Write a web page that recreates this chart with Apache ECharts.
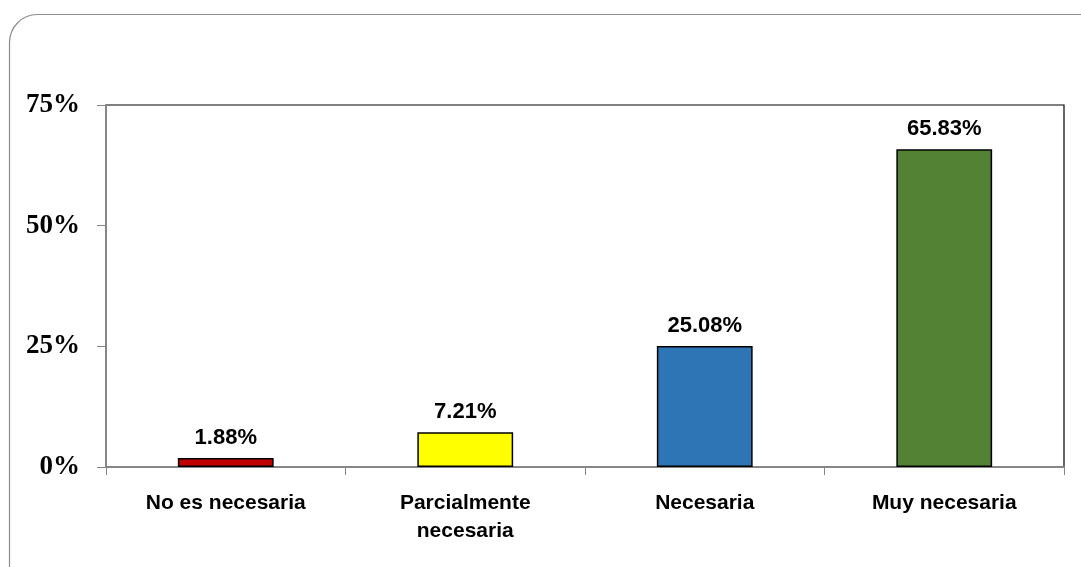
<!DOCTYPE html>
<html><head><meta charset="utf-8">
<script src="https://cdn.jsdelivr.net/npm/echarts@6/dist/echarts.min.js"></script>
<style>html,body{margin:0;padding:0;background:#fff}#c{width:1081px;height:567px}</style>
</head><body><div id="c"></div>
<script>
var categories = ['No es necesaria', 'Parcialmente\nnecesaria', 'Necesaria', 'Muy necesaria'];
var values = [1.88, 7.21, 25.08, 65.83];
var barColors = ['#C00000', '#FFFF00', '#2E75B6', '#548235'];
var yTicks = [0, 25, 50, 75];

var chart = echarts.init(document.getElementById('c'), null, {renderer: 'canvas'});
var sans = '"Liberation Sans", Arial, sans-serif';
chart.setOption({
  animation: false,
  backgroundColor: '#fff',
  graphic: [{
    type: 'rect', left: 7, top: 12, z: -10,
    shape: {width: 1100, height: 600, r: 28},
    style: {fill: 'none', stroke: '#8c8c8c', lineWidth: 1.2}
  }],
  grid: {left: 106, right: 17, top: 105, bottom: 100, show: true, borderColor: '#000', borderWidth: 1.2},
  xAxis: {
    type: 'category', data: categories, boundaryGap: true,
    axisLine: {lineStyle: {color: '#868686', width: 2}},
    axisTick: {show: true, length: 8, alignWithLabel: false, lineStyle: {color: '#868686'}},
    axisLabel: {color: '#000', fontFamily: sans, fontWeight: 'bold', fontSize: 21, margin: 22, lineHeight: 28, interval: 0}
  },
  yAxis: {
    type: 'value', min: 0, max: 75, interval: 25,
    splitLine: {show: false},
    axisLine: {show: true, lineStyle: {color: '#868686', width: 2}},
    axisTick: {show: true, length: 9, lineStyle: {color: '#868686'}},
    axisLabel: {color: '#000', fontFamily: '"Liberation Serif", "Times New Roman", serif', fontWeight: 'bold', fontSize: 27, margin: 26,
      formatter: function (v) { return yTicks.indexOf(v) >= 0 ? v + '%' : ''; }}
  },
  series: [{
    type: 'bar', barWidth: '40%',
    data: values.map(function (v, i) { return {value: v, itemStyle: {color: barColors[i]}}; }),
    itemStyle: {borderColor: '#000', borderWidth: 1.5},
    label: {show: true, position: 'top', distance: 9, color: '#000', fontFamily: sans, fontWeight: 'bold', fontSize: 22,
      formatter: function (p) { return p.value.toFixed(2) + '%'; }}
  }]
});
</script></body></html>
